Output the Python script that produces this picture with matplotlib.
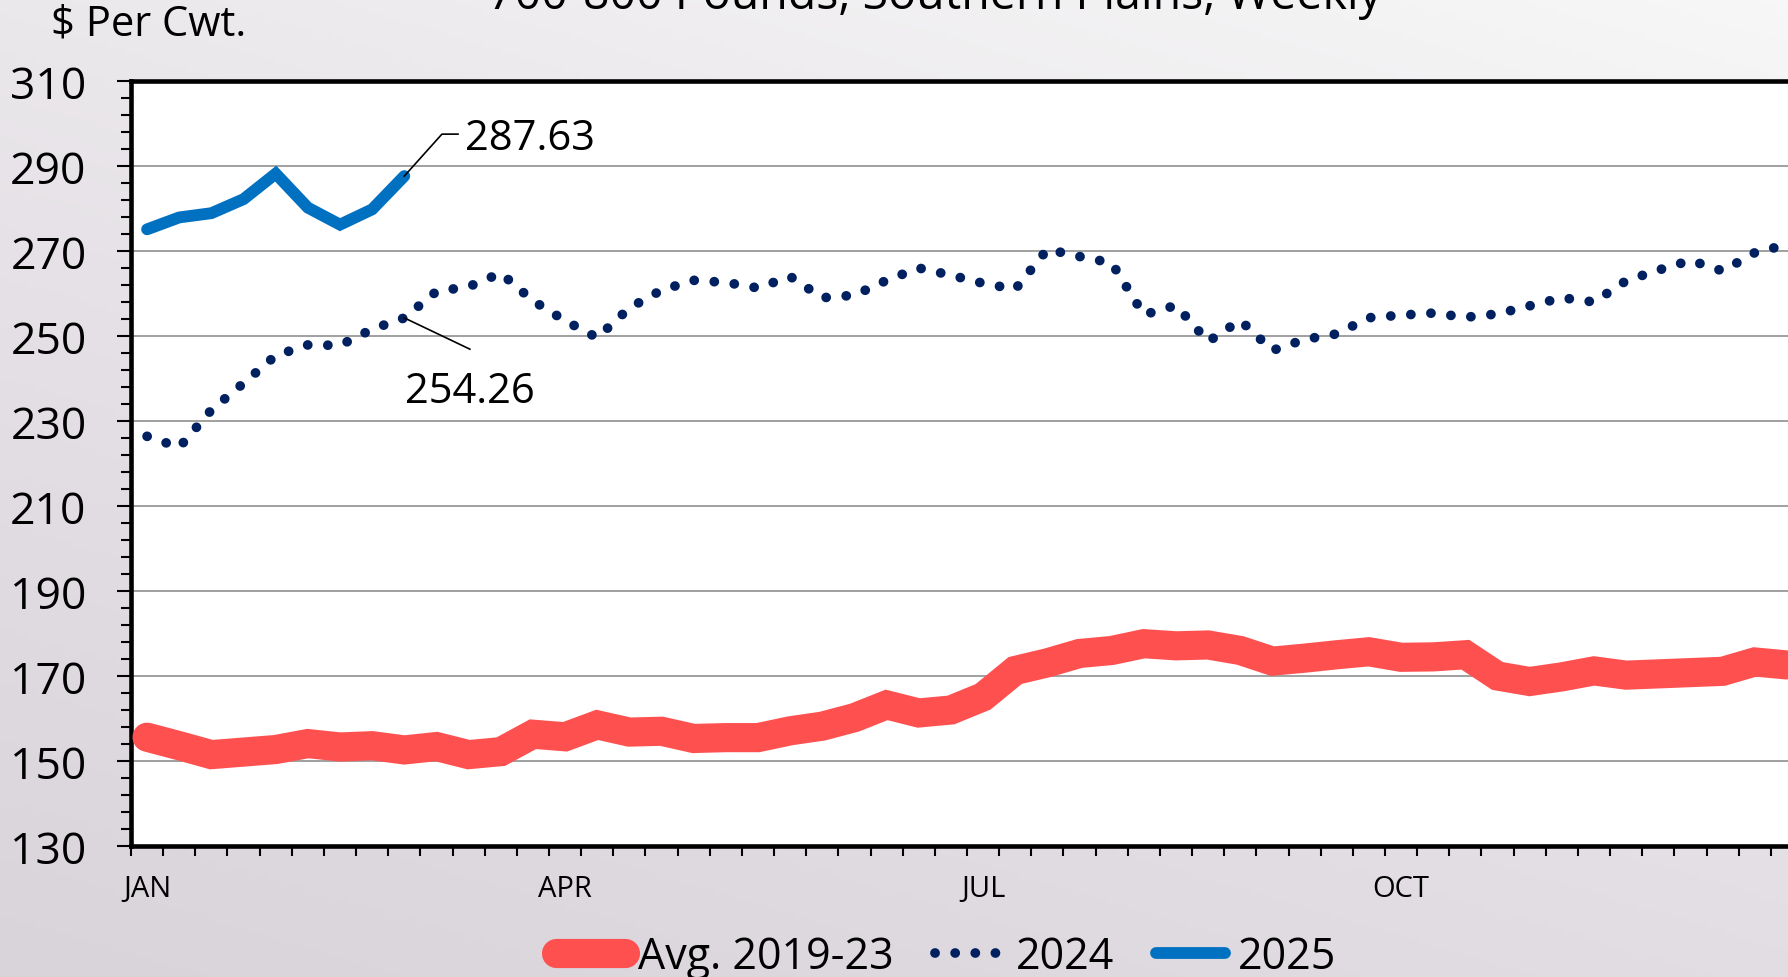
import numpy as np
import matplotlib
matplotlib.use("Agg")
import matplotlib.pyplot as plt
from matplotlib.colors import LinearSegmentedColormap
from matplotlib.ticker import FixedLocator

plt.rcParams['font.family'] = ['Open Sans', 'DejaVu Sans']

# weekly prices, $ per cwt, 700-800 lb steers, Southern Plains
weeks = np.arange(52)
avg_2019_23 = [155.6, 153.6, 151.5, 152.1, 152.7, 154.1, 153.3, 153.6, 152.6, 153.4,
               151.5, 152.2, 156.3, 155.7, 158.5, 156.8, 157.0, 155.3, 155.5, 155.5,
               157.1, 158.2, 160.2, 163.2, 161.3, 162.0, 165.1, 171.3, 173.1, 175.3,
               176.0, 177.6, 177.1, 177.3, 176.0, 173.5, 174.2, 175.0, 175.7, 174.4,
               174.5, 175.0, 170.0, 168.7, 169.8, 171.2, 170.2, 170.5, 170.8, 171.1,
               173.3, 172.6]
y2024 = [226.4, 223.8, 232.6, 238.9, 245.4, 247.9, 247.8, 251.6, 254.26, 260.5,
         261.6, 264.8, 258.3, 253.6, 249.6, 256.6, 260.8, 263.1, 262.6, 261.3,
         264.0, 259.0, 259.6, 263.1, 266.0, 264.3, 262.4, 261.0, 270.4, 268.7,
         267.2, 255.0, 257.2, 248.7, 253.7, 246.6, 249.2, 250.5, 254.3, 254.9,
         255.4, 254.4, 255.2, 257.1, 259.0, 258.0, 263.0, 265.5, 267.8, 265.3,
         269.6, 271.5]
y2025 = [275.1, 277.9, 278.9, 282.2, 288.2, 280.2, 276.2, 279.8, 287.63]

month_pos = [0, 13, 26, 39]
month_labels = ["JAN", "APR", "JUL", "OCT"]
y_ticks = np.arange(130, 311, 20)

fig = plt.figure(figsize=(17.88, 9.78), dpi=100)

# soft gradient background
bg = fig.add_axes([0, 0, 1, 1], zorder=-10)
gx, gy = np.meshgrid(np.linspace(0, 1, 200), np.linspace(0, 1, 200))
grad = 0.65 * gy + 0.35 * (1 - gx)
bg_cmap = LinearSegmentedColormap.from_list("bg", ["#F7F7F7", "#E6E2E7", "#D9D3DA"])
bg.imshow(grad, cmap=bg_cmap, aspect='auto', extent=[0, 1, 0, 1], origin='upper')
bg.axis("off")

ax = fig.add_axes([131 / 1788, 1 - 847 / 978, 1672 / 1788, 765 / 978])
ax.set_facecolor("white")

ax.plot(weeks, avg_2019_23, color="#FF5050", lw=21, solid_capstyle='round',
        solid_joinstyle='miter', label="Avg. 2019-23", zorder=3)
ax.plot(weeks, y2024, color="#002060", lw=7, linestyle=(0, (0.01, 2.06)),
        dash_capstyle='round', label="2024", zorder=4)
ax.plot(weeks[:len(y2025)], y2025, color="#0070C0", lw=8.5, solid_capstyle='round',
        solid_joinstyle='miter', label="2025", zorder=5)

ax.set_xlim(-0.5, 51.5)
ax.set_ylim(130, 310)

ax.yaxis.set_major_locator(FixedLocator(y_ticks))
ax.yaxis.set_minor_locator(FixedLocator(np.arange(130, 311, 4)))
ax.tick_params(axis='y', which='major', length=10, width=1.5, labelsize=32, pad=22)
ax.tick_params(axis='y', which='minor', length=7, width=1.5)
ax.grid(axis='y', which='major', color="#A0A0A0", lw=1.4, zorder=1)

ax.set_xticks(month_pos)
ax.set_xticklabels(month_labels)
ax.xaxis.set_minor_locator(FixedLocator(np.arange(-0.5, 52, 1)))
ax.tick_params(axis='x', which='major', length=0, labelsize=21, pad=20)
ax.tick_params(axis='x', which='minor', length=7, width=1.5)

for side in ["left", "top", "bottom", "right"]:
    ax.spines[side].set_linewidth(3.3)
    ax.spines[side].set_color("black")

# value callouts
last = len(y2025) - 1
ax.plot([last, 9.17, 9.67], [y2025[last], 297.5, 297.5], color="black", lw=1.2, zorder=6)
ax.text(9.89, 296.6, f"{y2025[last]:.2f}", fontsize=30, va='center', ha='left')
ax.plot([last, 10.04], [y2024[last], 246.9], color="black", lw=1.2, zorder=6)
ax.text(10.04, 237.0, f"{y2024[last]:.2f}", fontsize=30, va='center', ha='center')

fig.text(51 / 1788, 1 - 25 / 978, "$ Per Cwt.", fontsize=30, va='center', ha='left')
fig.text(935 / 1788, 1 - 9 / 978, "700-800 Pounds, Southern Plains, Weekly",
         fontsize=33.5, va='baseline', ha='center')

fig.legend(loc='center', bbox_to_anchor=(946 / 1788, 1 - 958 / 978), ncol=3,
           frameon=False, fontsize=31, handlelength=1.6, handletextpad=0.3,
           columnspacing=0.95, borderaxespad=0)

fig.savefig("out.png", dpi=100)
